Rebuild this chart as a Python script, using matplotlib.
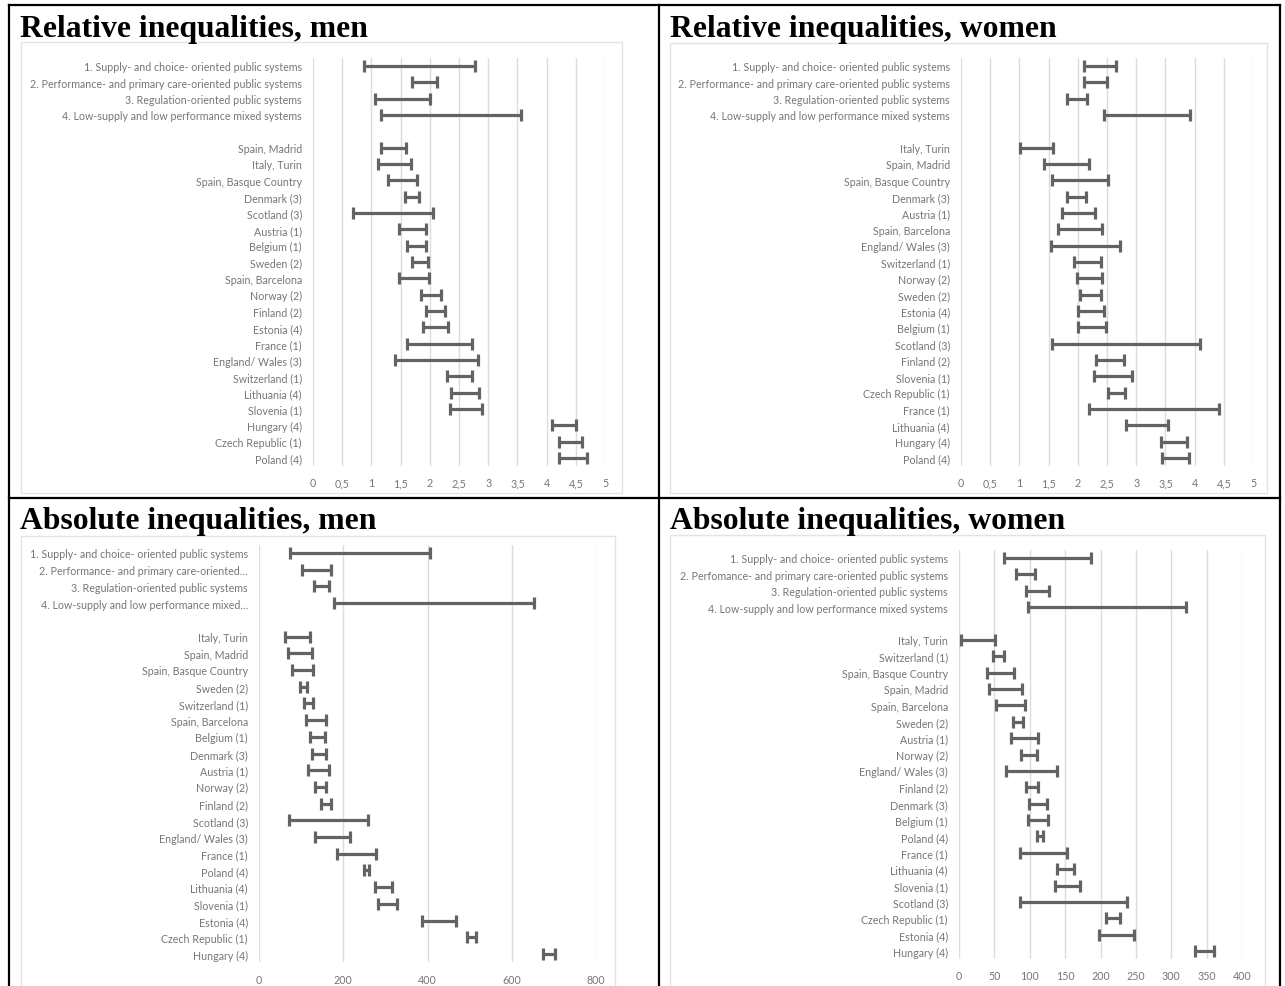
import matplotlib
matplotlib.use("Agg")
import matplotlib.pyplot as plt
from matplotlib.patches import Rectangle
from matplotlib.lines import Line2D

W, H = 1285, 987

# ---- data: (low, high) intervals ----
group_labels = ['1. Supply- and choice- oriented public systems',
                '2. Performance- and primary care-oriented public systems',
                '3. Regulation-oriented public systems',
                '4. Low-supply and low performance mixed systems']

rel_men_labels = group_labels + ['',
    'Spain, Madrid', 'Italy, Turin', 'Spain, Basque Country', 'Denmark (3)',
    'Scotland (3)', 'Austria (1)', 'Belgium (1)', 'Sweden (2)', 'Spain, Barcelona',
    'Norway (2)', 'Finland (2)', 'Estonia (4)', 'France (1)', 'England/ Wales (3)',
    'Switzerland (1)', 'Lithuania (4)', 'Slovenia (1)', 'Hungary (4)',
    'Czech Republic (1)', 'Poland (4)']
rel_men_lo = [0.87, 1.70, 1.06, 1.16, None,
              1.16, 1.12, 1.29, 1.57, 0.69, 1.48, 1.61, 1.70, 1.48,
              1.85, 1.94, 1.88, 1.61, 1.40, 2.29, 2.36, 2.34, 4.09, 4.22, 4.22]
rel_men_hi = [2.77, 2.13, 2.01, 3.57, None,
              1.60, 1.68, 1.78, 1.82, 2.06, 1.94, 1.94, 1.97, 1.98,
              2.19, 2.26, 2.31, 2.73, 2.83, 2.73, 2.85, 2.89, 4.50, 4.61, 4.69]

rel_women_labels = group_labels + ['',
    'Italy, Turin', 'Spain, Madrid', 'Spain, Basque Country', 'Denmark (3)',
    'Austria (1)', 'Spain, Barcelona', 'England/ Wales (3)', 'Switzerland (1)',
    'Norway (2)', 'Sweden (2)', 'Estonia (4)', 'Belgium (1)', 'Scotland (3)',
    'Finland (2)', 'Slovenia (1)', 'Czech Republic (1)', 'France (1)',
    'Lithuania (4)', 'Hungary (4)', 'Poland (4)']
rel_women_lo = [2.10, 2.10, 1.82, 2.45, None,
                1.01, 1.42, 1.55, 1.82, 1.73, 1.66, 1.54, 1.94, 1.99, 2.04,
                2.01, 2.01, 1.55, 2.32, 2.27, 2.52, 2.19, 2.83, 3.42, 3.45]
rel_women_hi = [2.66, 2.50, 2.15, 3.92, None,
                1.57, 2.20, 2.52, 2.14, 2.29, 2.41, 2.73, 2.40, 2.41, 2.39,
                2.45, 2.49, 4.10, 2.79, 2.93, 2.81, 4.42, 3.55, 3.87, 3.91]

abs_men_labels = ['1. Supply- and choice- oriented public systems',
                  '2. Performance- and primary care-oriented…',
                  '3. Regulation-oriented public systems',
                  '4. Low-supply and low performance mixed…', '',
    'Italy, Turin', 'Spain, Madrid', 'Spain, Basque Country', 'Sweden (2)',
    'Switzerland (1)', 'Spain, Barcelona', 'Belgium (1)', 'Denmark (3)',
    'Austria (1)', 'Norway (2)', 'Finland (2)', 'Scotland (3)',
    'England/ Wales (3)', 'France (1)', 'Poland (4)', 'Lithuania (4)',
    'Slovenia (1)', 'Estonia (4)', 'Czech Republic (1)', 'Hungary (4)']
abs_men_lo = [73, 101, 130, 178, None,
              62, 69, 78, 98, 107, 112, 122, 127, 117, 132, 146, 72, 133,
              186, 249, 275, 282, 387, 493, 673]
abs_men_hi = [407, 170, 165, 653, None,
              121, 127, 128, 114, 128, 160, 156, 158, 166, 160, 170, 258, 215,
              277, 262, 315, 328, 467, 516, 702]

abs_women_labels = ['1. Supply- and choice- oriented public systems',
                    '2. Perfomance- and primary care-oriented public systems',
                    '3. Regulation-oriented public systems',
                    '4. Low-supply and low performance mixed systems', '',
    'Italy, Turin', 'Switzerland (1)', 'Spain, Basque Country', 'Spain, Madrid',
    'Spain, Barcelona', 'Sweden (2)', 'Austria (1)', 'Norway (2)',
    'England/ Wales (3)', 'Finland (2)', 'Denmark (3)', 'Belgium (1)',
    'Poland (4)', 'France (1)', 'Lithuania (4)', 'Slovenia (1)', 'Scotland (3)',
    'Czech Republic (1)', 'Estonia (4)', 'Hungary (4)']
abs_women_lo = [63, 80, 94, 98, None,
                3, 48, 39, 43, 53, 77, 74, 88, 66, 94, 99, 97, 110, 86, 138,
                135, 86, 208, 198, 334]
abs_women_hi = [187, 108, 127, 321, None,
                51, 63, 78, 89, 93, 91, 111, 110, 139, 112, 124, 126, 119, 152,
                163, 171, 237, 228, 248, 361]

rel_ticks = [0, 0.5, 1, 1.5, 2, 2.5, 3, 3.5, 4, 4.5, 5]
rel_ticklabels = ['0', '0,5', '1', '1,5', '2', '2,5', '3', '3,5', '4', '4,5', '5']
abs_men_ticks = [0, 200, 400, 600, 800]
abs_women_ticks = [0, 50, 100, 150, 200, 250, 300, 350, 400]

titles = ['Relative inequalities, men', 'Relative inequalities, women',
          'Absolute inequalities, men', 'Absolute inequalities, women']

BAR = '#636363'
GRID = '#dcdcdc'
TXT = '#767676'
FONT = 'Lato'
FS = 7.7

fig = plt.figure(figsize=(W / 100, H / 100), dpi=100)


def px_axes(x0, y0, x1, y1):
    return fig.add_axes([x0 / W, 1 - y1 / H, (x1 - x0) / W, (y1 - y0) / H])


def draw_panel(box, labels, lo, hi, xmax, ticks, ticklabels):
    ax = px_axes(*box)
    n = len(labels)
    for i in range(n):
        if lo[i] is None:
            continue
        mid = (lo[i] + hi[i]) / 2
        ax.errorbar(mid, i, xerr=(hi[i] - lo[i]) / 2, fmt='none', ecolor=BAR,
                    elinewidth=2.3, capsize=4, capthick=2.3)
    ax.set_xlim(0, xmax)
    ax.set_ylim(n - 0.5, -0.5)
    ax.set_yticks(range(n))
    ax.set_yticklabels(labels, fontsize=FS, color=TXT, family=FONT)
    ax.set_xticks(ticks)
    ax.set_xticklabels(ticklabels, fontsize=FS, color=TXT, family=FONT)
    ax.tick_params(axis='y', length=0, pad=8)
    ax.tick_params(axis='x', length=0, pad=8)
    ax.grid(axis='x', color=GRID, linewidth=1)
    ax.set_axisbelow(True)
    for s in ax.spines.values():
        s.set_visible(False)
    return ax


# chart-area frames (light grey)
frames = [(21, 43, 622, 494), (670, 44, 1267, 494), (21, 537, 615, 990), (670, 536, 1265, 990)]
for x0, y0, x1, y1 in frames:
    fig.patches.append(Rectangle((x0 / W, 1 - y1 / H), (x1 - x0) / W, (y1 - y0) / H,
                                 transform=fig.transFigure, fill=False,
                                 edgecolor='#e3e3e3', linewidth=1))

draw_panel((313, 58.8, 605, 467.2), rel_men_labels, rel_men_lo, rel_men_hi,
           5, rel_ticks, rel_ticklabels)
draw_panel((961, 58.8, 1253, 467.2), rel_women_labels, rel_women_lo, rel_women_hi,
           5, rel_ticks, rel_ticklabels)
draw_panel((259, 545.6, 596, 963.4), abs_men_labels, abs_men_lo, abs_men_hi,
           800, abs_men_ticks, [str(t) for t in abs_men_ticks])
draw_panel((959, 550.8, 1242, 960.2), abs_women_labels, abs_women_lo, abs_women_hi,
           400, abs_women_ticks, [str(t) for t in abs_women_ticks])

# panel titles
title_pos = [(20, 37), (670, 37), (20, 529), (670, 529)]
for (tx, ty), t in zip(title_pos, titles):
    fig.text(tx / W, 1 - ty / H, t, family='Liberation Serif', weight='bold',
             fontsize=22.8, va='baseline', ha='left', color='black')

# black table grid
lines = [((9, 9), (6, 987)), ((1280, 1280), (6, 987)), ((659, 659), (6, 987)),
         ((9, 1280), (6, 6)), ((9, 1280), (499, 499))]
for xs, ys in lines:
    fig.lines.append(Line2D([x / W for x in xs], [1 - y / H for y in ys],
                            transform=fig.transFigure, color='black', linewidth=1.6))

fig.savefig('out.png', dpi=100, facecolor='white')
